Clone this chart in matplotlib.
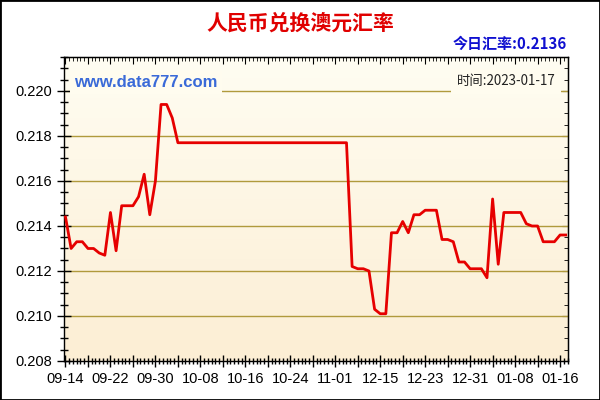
import matplotlib.pyplot as plt
import numpy as np
from matplotlib.patches import Rectangle

plt.rcParams['font.family'] = ['Liberation Sans', 'Noto Sans CJK SC', 'DejaVu Sans']

# daily rate, one value per trading day shown on the chart
rates = [
    0.2144, 0.2130, 0.2133, 0.2133, 0.2130, 0.2130, 0.2128, 0.2127, 0.2146, 0.2129,
    0.2149, 0.2149, 0.2149, 0.2153, 0.2163, 0.2145, 0.2160, 0.2194, 0.2194, 0.2188,
    0.2177, 0.2177, 0.2177, 0.2177, 0.2177, 0.2177, 0.2177, 0.2177, 0.2177, 0.2177,
    0.2177, 0.2177, 0.2177, 0.2177, 0.2177, 0.2177, 0.2177, 0.2177, 0.2177, 0.2177,
    0.2177, 0.2177, 0.2177, 0.2177, 0.2177, 0.2177, 0.2177, 0.2177, 0.2177, 0.2177,
    0.2177, 0.2122, 0.2121, 0.2121, 0.2120, 0.2103, 0.2101, 0.2101, 0.2137, 0.2137,
    0.2142, 0.2137, 0.2145, 0.2145, 0.2147, 0.2147, 0.2147, 0.2134, 0.2134, 0.2133,
    0.2124, 0.2124, 0.2121, 0.2121, 0.2121, 0.2117, 0.2152, 0.2123, 0.2146, 0.2146,
    0.2146, 0.2146, 0.2141, 0.2140, 0.2140, 0.2133, 0.2133, 0.2133, 0.2136, 0.2136,
]
tick_labels = ['09-14', '09-22', '09-30', '10-08', '10-16', '10-24',
               '11-01', '12-15', '12-23', '12-31', '01-08', '01-16']
y_ticks = [0.208, 0.210, 0.212, 0.214, 0.216, 0.218, 0.220]
today_rate = 0.2136
today_date = '2023-01-17'
title = '人民币兑换澳元汇率'

x = np.arange(len(rates))

fig = plt.figure(figsize=(6, 4), dpi=100)
fig.patch.set_facecolor('white')
ax = fig.add_axes([0.107, 0.0975, 0.840, 0.760])

xlim = (-0.23, 89.45)
ylim = (0.208, 0.22151)
ax.set_xlim(*xlim)
ax.set_ylim(*ylim)

# cream -> peach gradient background
grad = np.linspace(0, 1, 256).reshape(-1, 1)
c_top = np.array([255, 253, 242]) / 255
c_bot = np.array([252, 238, 212]) / 255
img = c_top + (c_bot - c_top) * grad[:, :, None]
ax.imshow(img, extent=(xlim[0], xlim[1], ylim[0], ylim[1]), aspect='auto',
          origin='upper', zorder=0)

# gridlines
for v in y_ticks[1:]:
    ax.axhline(v, color='#b09a3c', lw=1, zorder=1)

ax.plot(x, rates, color='#e60000', lw=2.0, zorder=3)

# x ticks: label every 8 days, long tick every 4, short ticks between
major_pos = np.arange(0, 89, 4)
major_lab = [tick_labels[i // 2] if i % 2 == 0 else '' for i in range(len(major_pos))]
ax.set_xticks(major_pos)
ax.set_xticklabels(major_lab)
ax.set_xticks(np.arange(0, 89.4, 4 / 6), minor=True)
ax.tick_params(axis='x', which='major', direction='inout', length=8, width=1,
               labelsize=10.5, pad=4, colors='black')
ax.tick_params(axis='x', which='minor', direction='inout', length=4, width=1)

# y ticks
ax.set_yticks(y_ticks)
ax.set_yticklabels([f'{v:.3f}' for v in y_ticks])
ax.set_yticks(np.arange(0.208, 0.2216, 0.0005), minor=True)
ax.tick_params(axis='y', which='major', direction='inout', length=10, width=1,
               labelsize=10.5, pad=4)
ax.tick_params(axis='y', which='minor', direction='inout', length=6, width=1)

# inward ticks on top and right
top = ax.secondary_xaxis('top')
top.set_xticks(major_pos)
top.set_xticks(np.arange(0, 89.4, 4 / 6), minor=True)
top.tick_params(which='major', direction='in', length=5, labeltop=False)
top.tick_params(which='minor', direction='in', length=3)
right = ax.secondary_yaxis('right')
right.set_yticks(y_ticks)
right.set_yticks(np.arange(0.208, 0.2216, 0.0005), minor=True)
right.tick_params(which='major', direction='in', length=4, labelright=False)
right.tick_params(which='minor', direction='in', length=3)

for sp in ax.spines.values():
    sp.set_color('black')
    sp.set_linewidth(1)

# texts
fig.text(0.5, 0.943, title, ha='center', va='center', fontsize=15,
         fontweight='bold', color='#e00000', family=['Noto Sans CJK SC'])
fig.text(0.944, 0.89, f'今日汇率:{today_rate}', ha='right', va='center',
         fontsize=10.8, fontweight='bold', color='#1010d0',
         family=['Noto Sans CJK SC', 'Liberation Sans'])
ax.text(0.02, 0.22004, 'www.data777.com', transform=ax.get_yaxis_transform(),
        ha='left', va='bottom', fontsize=12, fontweight='bold', color='#3a6ad8',
        bbox=dict(facecolor='#fffcef', edgecolor='none', pad=3), zorder=4)
ax.text(0.975, 0.22012, f'时间:{today_date}', transform=ax.get_yaxis_transform(),
        ha='right', va='bottom', fontsize=9.6, color='#222222',
        family=['Noto Sans CJK SC', 'Liberation Sans'],
        bbox=dict(facecolor='#fffcef', edgecolor='none', pad=4), zorder=4)

fig.patches.append(Rectangle((0, 0), 1, 1, transform=fig.transFigure, fill=False,
                             edgecolor='black', lw=2))

fig.savefig('out.png', dpi=100)
